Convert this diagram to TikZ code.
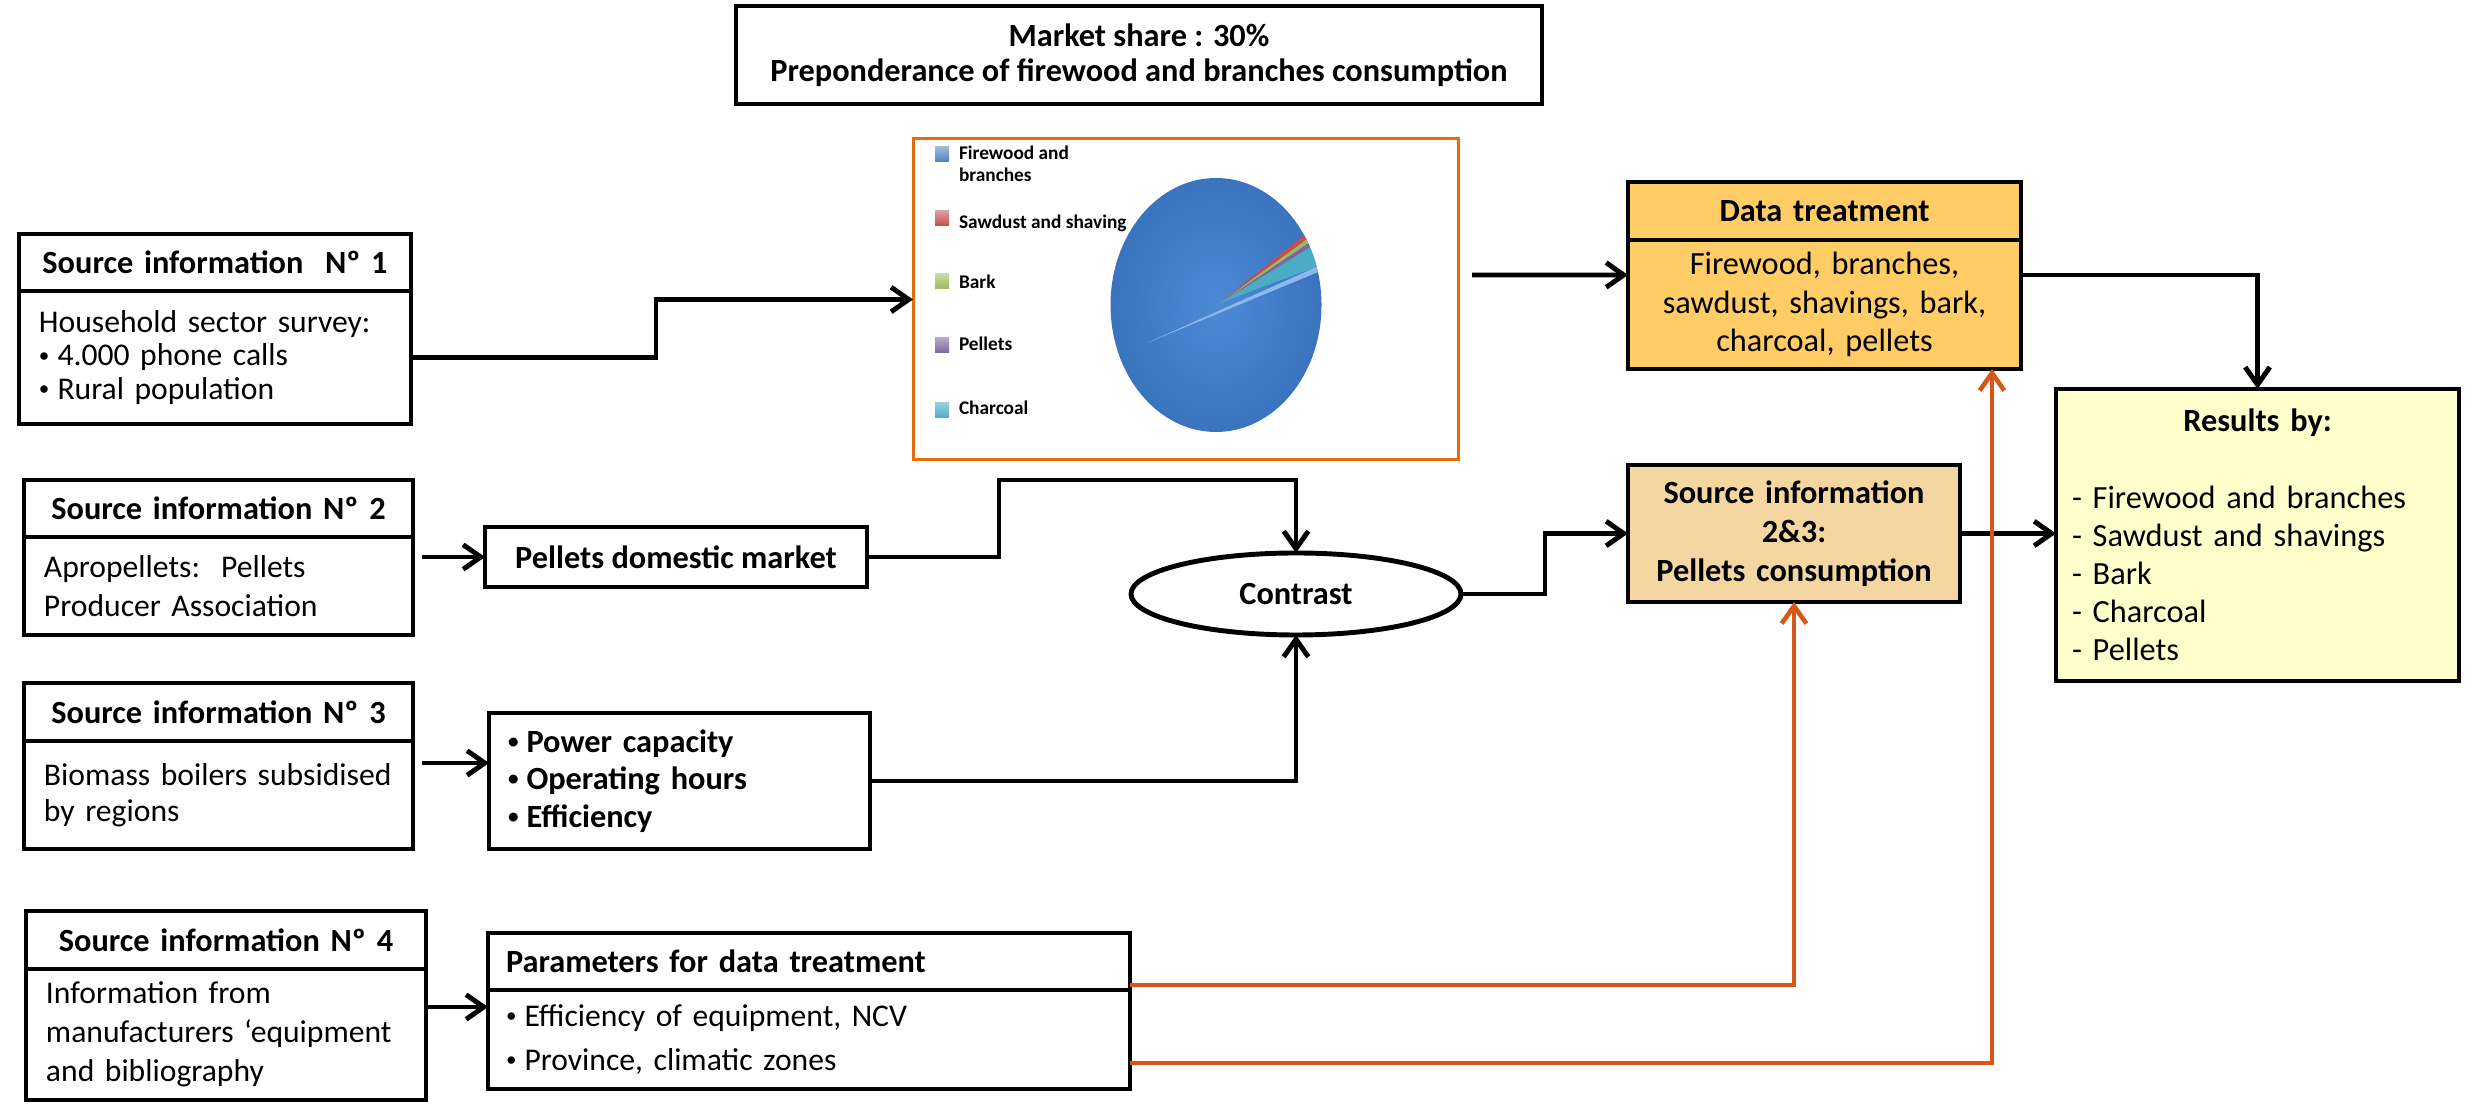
\documentclass[tikz,border=0pt]{standalone}
\usepackage{fontspec}
\setmainfont{Carlito}
\usepackage{tikz}
\usetikzlibrary{arrows.meta,positioning,shapes.geometric}
\definecolor{dtfill}{HTML}{FFCC66}
\definecolor{srcfill}{HTML}{F3D6A0}
\definecolor{resfill}{HTML}{FFFFCC}
\definecolor{feedback}{HTML}{D9561A}
\definecolor{frame}{HTML}{E46C0A}
\definecolor{pieblue}{HTML}{3A73BE}
\definecolor{pieHi}{HTML}{4D8AD6}
\definecolor{pieLight}{HTML}{8DB8EC}
\definecolor{slBlue}{HTML}{4F81BD}
\definecolor{slRed}{HTML}{C0504D}
\definecolor{slGreen}{HTML}{9BBB59}
\definecolor{slPurple}{HTML}{8064A2}
\definecolor{slCyan}{HTML}{4BACC6}
\newcommand{\bul}{\raisebox{0.25ex}{\fontsize{6}{0}\selectfont•}\hspace{0.8mm}}

\begin{document}
\begin{tikzpicture}[
		x=1mm, y=1mm,
		font=\fontsize{9}{10.8}\selectfont,
		every node/.style={outer sep=0pt},
		hdr/.style={rectangle, draw, line width=1.4pt, inner xsep=2mm, inner ysep=0pt,
				align=center, font=\fontsize{9.2}{11}\selectfont\bfseries},
		txt/.style={rectangle, draw, line width=1.4pt, inner xsep=2mm, inner ysep=0pt,
				align=left},
		arr/.style={-{Straight Barb[length=5pt,width=7pt]}, line width=1.4pt},
		oarr/.style={arr, feedback, line width=1.3pt},
		lgd/.style={anchor=west, align=left, inner sep=0pt,
				font=\fontsize{5.5}{6.3}\selectfont\bfseries},
		]
		\useasboundingbox (0,0) rectangle (247.8,110.6);

		% Source boxes
		\node[hdr, text width=35.2mm, minimum height=5.7mm] (s1h) at (21.5,84.35) {Source information\ \ Nº 1};
		\node[txt, below=0pt of s1h, text width=35.2mm, minimum height=13.3mm,
			font=\fontsize{9}{9.5}\selectfont] (s1b) {Household sector survey:\\\bul 4.000 phone calls\\\bul Rural population};

		\node[hdr, text width=34.9mm, minimum height=5.7mm] (s2h) at (21.85,59.75) {Source information Nº 2};
		\node[txt, below=0pt of s2h, text width=34.9mm, minimum height=9.8mm,
			font=\fontsize{9}{11.1}\selectfont] (s2b) {Apropellets:\ \ Pellets\\Producer Association};

		\node[hdr, text width=34.9mm, minimum height=5.8mm] (s3h) at (21.85,39.4) {Source information Nº 3};
		\node[txt, below=0pt of s3h, text width=34.9mm, minimum height=10.8mm,
			font=\fontsize{9}{10.2}\selectfont] (s3b) {Biomass boilers subsidised\\by regions};

		\node[hdr, text width=36mm, minimum height=5.8mm] (s4h) at (22.6,16.6) {Source information Nº 4};
		\node[txt, below=0pt of s4h, text width=36mm, minimum height=13.1mm,
			font=\fontsize{9}{11.1}\selectfont] (s4b) {Information from\\manufacturers ‘equipment\\and bibliography};

		% Middle column
		\node[hdr, minimum width=38.2mm, minimum height=6mm] (pdm) at (67.6,54.9) {Pellets domestic market};
		\node[txt, text width=34.3mm, inner xsep=1.9mm, minimum height=13.6mm,
			font=\fontsize{9.2}{10.7}\selectfont\bfseries] (pwr) at (67.95,32.5) {\bul Power capacity\\\bul Operating hours\\\bul Efficiency};

		\node[txt, text width=60.6mm, inner xsep=1.8mm, minimum height=5.7mm,
			font=\fontsize{9.2}{11}\selectfont\bfseries] (ph) at (80.9,14.45) {Parameters for data treatment};
		\node[txt, below=0pt of ph, text width=60.6mm, inner xsep=1.8mm, minimum height=9.9mm,
			font=\fontsize{9}{12.5}\selectfont] (pb) {\bul Efficiency of equipment, NCV\\\bul Province, climatic zones};

		\node[ellipse, draw, line width=1.4pt, minimum width=33mm, minimum height=8.2mm, inner sep=0pt,
			font=\fontsize{9.2}{11}\selectfont\bfseries] (con) at (129.6,51.2) {Contrast};

		% Market share and pie chart
		\node[hdr, minimum width=80.6mm, minimum height=9.8mm,
			font=\fontsize{9.2}{10}\selectfont\bfseries] (share) at (113.9,105.1)
		{Market share : 30\%\\Preponderance of firewood and branches consumption};

		\node[draw=frame, line width=0.85pt, minimum width=54.5mm, minimum height=32.1mm] (pie) at (118.55,80.65) {};

		\begin{scope}[shift={(121.6,80.1)}]
			\shade[inner color=pieHi, outer color=pieblue] (0,0) ellipse [x radius=10.55, y radius=12.7];
			\foreach \a/\b/\col in {33.5/31/slRed, 31/29/slGreen, 29/27/slPurple, 27/17.5/slCyan}
			\fill[\col] (0.4,0.2) -- (\a:10.55 and 12.7)
			arc[start angle=\a, end angle=\b, x radius=10.55, y radius=12.7] -- cycle;
			\fill[pieLight] (-6.9,-3.8) -- (17.5:10.55 and 12.7) -- (15:10.55 and 12.7) -- cycle;
		\end{scope}

		\foreach \n/\sy/\ty/\col/\lab in {1/95.15/94.2/slBlue/{Firewood and\\branches},
				2/88.75/88.3/slRed/{Sawdust and shaving}, 3/82.45/82.4/slGreen/{Bark},
				4/76.1/76.2/slPurple/{Pellets}, 5/69.6/69.8/slCyan/{Charcoal}} {
			\shade[top color=\col!55!white, bottom color=\col] (93.5,\sy-0.75) rectangle ++(1.4,1.5);
			\node[lgd] (lg\n) at (95.9,\ty) {\lab};
		}

		% Right column
		\node[hdr, fill=dtfill, text width=35.3mm, minimum height=5.8mm] (dth) at (182.45,89.5) {Data treatment};
		\node[txt, below=0pt of dth, fill=dtfill, text width=35.3mm, align=center, minimum height=12.9mm,
			font=\fontsize{9.2}{10.95}\selectfont] (dtb) {Firewood, branches,\\sawdust, shavings, bark,\\charcoal, pellets};

		\node[hdr, fill=srcfill, text width=29.2mm, minimum height=13.7mm,
			font=\fontsize{9.2}{11.1}\selectfont\bfseries] (s23) at (179.4,57.25)
		{Source information\\2\&3:\\Pellets consumption};

		\node[txt, fill=resfill, text width=37.1mm, inner xsep=1.6mm, minimum height=29.2mm,
			font=\fontsize{9.2}{10.85}\selectfont] (res) at (225.75,57.1)
		{\makebox[37.1mm]{\textbf{Results by:}}\\[10.85pt]- Firewood and branches\\- Sawdust and shavings\\- Bark\\- Charcoal\\- Pellets};

		% Connections
		\draw[arr] (s1b.east) -- ++(24.5,0) |- (pie.west);
		\draw[arr] ([xshift=1.4mm,yshift=2.45mm]pie.east) -- ([yshift=2.95mm]dtb.west);
		\draw[arr] ([yshift=2.95mm]dtb.east) -| (res.north);
		\draw[arr, shorten <=0.9mm] (s2h.south east |- pdm.west) -- (pdm.west);
		\draw[arr, shorten <=0.9mm] ([yshift=3.2mm]s3b.east) -- ([yshift=3.2mm]s3b.east -| pwr.west);
		\draw[arr] ([yshift=2.75mm]s4b.east) -- ([yshift=2.75mm]s4b.east -| pb.west);
		\draw[arr] (pdm.east) -- ++(13.2,0) |- ([yshift=7.3mm]con.north) -- (con.north);
		\draw[arr] (pwr.east) -| (con.south);
		\draw[arr] (con.east) -- ++(8.4,0) |- (s23.west);
		\draw[arr] (s23.east) -- (s23.east -| res.west);

		% Parameters feed back
		\draw[oarr] ([yshift=0.5mm]pb.north east) -| (s23.south);
		\draw[oarr] ([yshift=-7.3mm]pb.north east) -| ([xshift=-2.9mm]dtb.south east);

	\end{tikzpicture}
\end{document}
